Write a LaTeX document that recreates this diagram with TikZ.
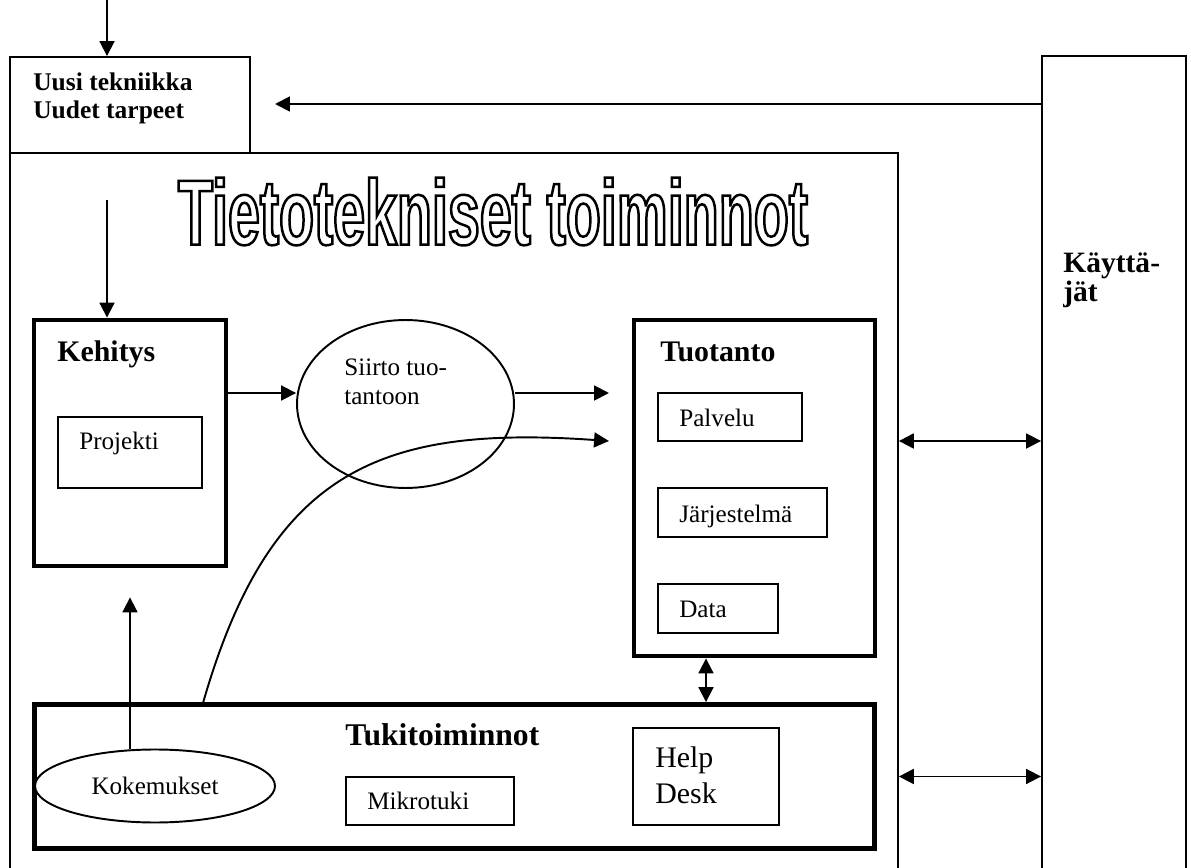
\documentclass[tikz,border=0pt]{standalone}
\usepackage{fontspec}
\setmainfont{Liberation Serif}
\newfontfamily\titlefont[FakeStretch=0.62]{Liberation Sans Bold}
\usetikzlibrary{shapes.geometric,arrows.meta,positioning}

\begin{document}
\begin{tikzpicture}[x=0.02cm, y=-0.02cm,
    frame/.style={draw, line width=1.1pt, inner sep=0pt},
    thickbox/.style={draw, line width=2.8pt, inner sep=0pt},
    subbox/.style={draw, line width=1.1pt, inner sep=0pt},
    oval/.style={draw, ellipse, line width=1.1pt, inner sep=0pt},
    txt/.style={font=\fontsize{14.3}{16.4}\selectfont, anchor=base west, inner sep=0pt},
    head/.style={font=\fontsize{17}{16.4}\selectfont\bfseries, anchor=base west, inner sep=0pt},
    arr/.style={-{Triangle[length=8.5pt,width=8.5pt]}, line width=1.1pt},
    darr/.style={{Triangle[length=8.5pt,width=8.5pt]}-{Triangle[length=8.5pt,width=8.5pt]}, line width=1.1pt},
]
\useasboundingbox (0,0) rectangle (1191,868);

% Outer frames
\node[frame, minimum width=17.76cm, minimum height=14.54cm] (tieto) at (454,516.5) {};
\node[frame, fill=white, minimum width=4.8cm, minimum height=1.92cm] (uusi) at (130,105) {};
\node[frame, minimum width=2.88cm, minimum height=16.48cm] (kayttajat) at (1114,468) {};

\node[head, font=\fontsize{14.5}{15.9}\selectfont\bfseries] (uusitxt) at (33,91) {Uusi tekniikka};
\node[head, font=\fontsize{14.5}{15.9}\selectfont\bfseries] (uudettxt) at (33,119) {Uudet tarpeet};
\node[head, font=\fontsize{16.8}{16.4}\selectfont\bfseries] (kaytxt) at (1063,273) {Käyttä-};
\node[head, font=\fontsize{16.8}{16.4}\selectfont\bfseries] (jattxt) at (1063,302) {jät};

% Title (outline only)
\node[inner sep=0pt] (title) at (493,211.5) {\resizebox{12.6cm}{1.34cm}{\special{pdf:literal direct 1 Tr 1.4 w}\titlefont\fontsize{52}{56}\selectfont Tietotekniset toiminnot\special{pdf:literal direct 0 Tr}}};

% Kehitys
\node[thickbox, minimum width=3.84cm, minimum height=4.92cm] (kehitys) at (130,443) {};
\node[head] (kehtxt) at (57,362) {Kehitys};
\node[subbox, minimum width=2.88cm, minimum height=1.42cm] (projekti) at (130,452.5) {};
\node[txt] (projtxt) at (79,450) {Projekti};

% Siirto
\node[oval, minimum width=4.34cm, minimum height=3.36cm] (siirto) at (405.5,404) {};
\node[txt] (siirtotxt) at (344,376) {Siirto tuo-};
\node[txt] (tantoontxt) at (344,405) {tantoon};

% Tuotanto
\node[thickbox, minimum width=4.82cm, minimum height=6.72cm] (tuotanto) at (754.5,488) {};
\node[head] (tuottxt) at (660,362) {Tuotanto};
\node[subbox, minimum width=2.88cm, minimum height=0.96cm] (palvelu) at (730,417) {};
\node[txt] (palvtxt) at (679,426) {Palvelu};
\node[subbox, minimum width=3.38cm, minimum height=0.98cm] (jarjestelma) at (742.5,512.5) {};
\node[txt] (jarjtxt) at (679,522) {Järjestelmä};
\node[subbox, minimum width=2.4cm, minimum height=0.98cm] (data) at (718,608.5) {};
\node[txt] (datatxt) at (679,617) {Data};

% Tukitoiminnot
\node[thickbox, minimum width=16.81cm, minimum height=2.88cm] (tuki) at (454.25,776.5) {};
\node[head, font=\fontsize{18}{20}\selectfont\bfseries] (tukitxt) at (345,745) {Tukitoiminnot};
\node[oval, fill=white, minimum width=4.8cm, minimum height=1.46cm, font=\fontsize{14.3}{16.4}\selectfont] (kokemukset) at (155,786) {Kokemukset};
\node[subbox, minimum width=3.36cm, minimum height=0.96cm] (mikrotuki) at (430,801) {};
\node[txt] (mikrotxt) at (367,809) {Mikrotuki};
\node[subbox, minimum width=2.92cm, minimum height=1.94cm] (helpdesk) at (706,776.5) {};
\node[txt, font=\fontsize{17}{20.4}\selectfont] (helptxt) at (655,767) {Help};
\node[txt, font=\fontsize{17}{20.4}\selectfont] (desktxt) at (655,803) {Desk};

% Free ends
\coordinate (top) at (107,0);
\coordinate (kin) at (107,200);
\coordinate (ktip) at (275,104);
\coordinate (tin1) at (609,393);
\coordinate (tin2) at (609,441);
\coordinate (cstart) at (203,703);

% Arrows
\draw[arr] (top) -- (top |- uusi.north);
\draw[arr] (ktip -| kayttajat.west) -- (ktip);
\draw[arr] (kin) -- (kin |- kehitys.north);
\draw[arr] (kehitys.east |- tin1) -- (siirto.west |- tin1);
\draw[arr] (siirto.east |- tin1) -- (tin1);
\draw[arr] (cstart) .. controls (270,470) and (380,425) .. (tin2);
\draw[arr] (kokemukset.north -| kehitys.south) -- ([yshift=-0.58cm]kehitys.south);
\draw[darr] (706,0 |- tuotanto.south) -- (706,0 |- tuki.north);
\draw[darr] (tieto.east |- tin2) -- (kayttajat.west |- tin2);
\draw[darr] (tieto.east |- tuki.east) -- (kayttajat.west |- tuki.east);

\end{tikzpicture}
\end{document}
